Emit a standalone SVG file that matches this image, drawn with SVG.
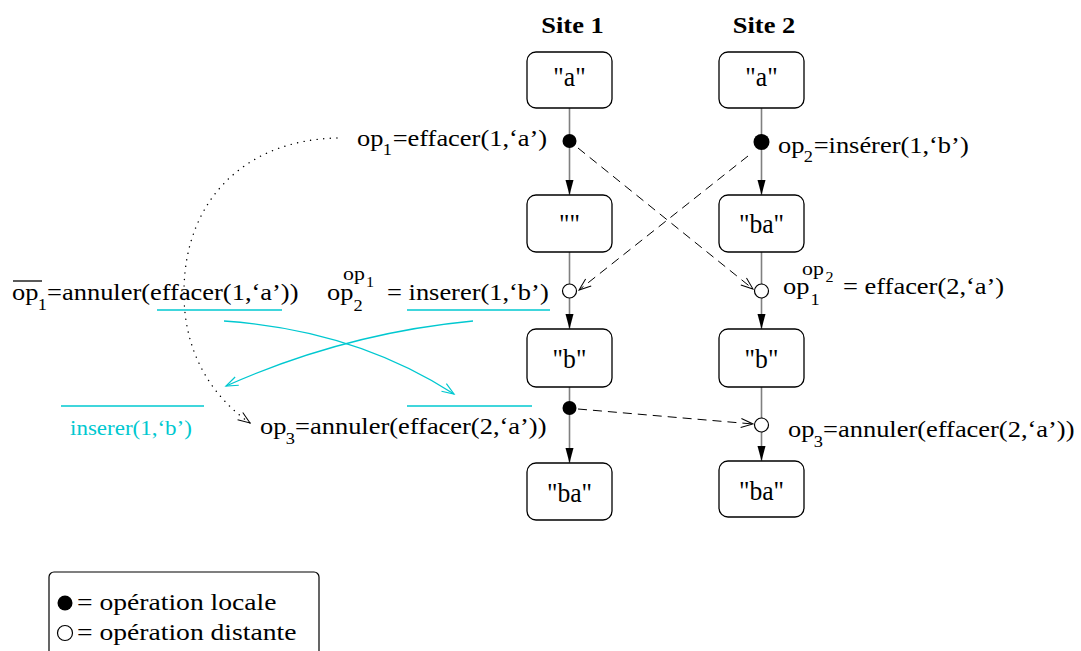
<svg xmlns="http://www.w3.org/2000/svg" width="1081" height="651" viewBox="0 0 1081 651">
<style>
text{font-family:"Liberation Serif","Times New Roman",serif;fill:#000}
.lb{font-size:23px}
.sb{font-size:16px}
.sp{font-size:19px}
.ss{font-size:14px}
.bx{font-size:27px;text-anchor:middle}
.title{font-size:23px;font-weight:bold;text-anchor:middle}
.lg{font-size:24px}
.box{fill:#fff;stroke:#000;stroke-width:1.3}
.flow{fill:none;stroke:#808080;stroke-width:1.6;marker-end:url(#fa)}
.msg{fill:none;stroke:#000;stroke-width:1;stroke-dasharray:9 6;marker-end:url(#oa)}
.dot{fill:none;stroke:#000;stroke-width:1.4;stroke-dasharray:0.1 6.5;stroke-linecap:round;marker-end:url(#oa)}
.cy{fill:none;stroke:#00c8d0;stroke-width:1.3}
.cya{fill:none;stroke:#00c8d0;stroke-width:1.3;marker-end:url(#oc)}
.loc{fill:#000}
.rem{fill:#fff;stroke:#000;stroke-width:1.2}
.ctext{fill:#00c8d0;font-size:20px}
</style>
<defs>
<marker id="fa" markerWidth="16" markerHeight="10" refX="15" refY="4" orient="auto" markerUnits="userSpaceOnUse" overflow="visible"><path d="M0,0 L15,4 L0,8 z" fill="#000"/></marker>
<marker id="oa" markerWidth="14" markerHeight="10" refX="12" refY="4.5" orient="auto" markerUnits="userSpaceOnUse" overflow="visible"><path d="M0,0 L12,4.5 L0,9" fill="none" stroke="#000" stroke-width="1"/></marker>
<marker id="oc" markerWidth="14" markerHeight="10" refX="12" refY="4.5" orient="auto" markerUnits="userSpaceOnUse" overflow="visible"><path d="M0,0 L12,4.5 L0,9" fill="none" stroke="#00c8d0" stroke-width="1.2"/></marker>
</defs>
<rect width="1081" height="651" fill="#fff"/>

<g id="titles">
<g transform="translate(572.5,33) scale(1.15,1)"><text class="title">Site 1</text></g>
<g transform="translate(764,33) scale(1.15,1)"><text class="title">Site 2</text></g>
</g>

<g id="connectors">
<path class="flow" d="M569.5,108 V195"/>
<path class="flow" d="M569.5,252 V329"/>
<path class="flow" d="M569.5,387 V463"/>
<path class="flow" d="M761.5,108 V195"/>
<path class="flow" d="M761.5,252 V329"/>
<path class="flow" d="M761.5,387 V461"/>
<path class="msg" d="M578,148 L753,289"/>
<path class="msg" d="M748,156 L579,290"/>
<path class="msg" d="M578,409 L753,424"/>
<path class="dot" d="M337,138 C245,140 185,200 184,290 C183,350 210,395 250,423"/>
<path class="cya" d="M224,321 Q355,330 454,394"/>
<path class="cya" d="M473,321 Q345,333 226,386"/>
<line class="cy" x1="157" y1="310" x2="282" y2="310"/>
<line class="cy" x1="407" y1="310" x2="550" y2="310"/>
<line class="cy" x1="61" y1="406" x2="204" y2="406"/>
<line class="cy" x1="407" y1="406" x2="532" y2="406"/>
</g>

<g id="s1-a"><rect class="box" x="527" y="52" width="85" height="56" rx="9"/><g transform="translate(569.5,86) scale(0.95,1)"><text class="bx">"a"</text></g></g>
<g id="s1-empty"><rect class="box" x="527" y="195" width="85" height="57" rx="9"/><g transform="translate(569.5,233) scale(0.95,1)"><text class="bx">""</text></g></g>
<g id="s1-b"><rect class="box" x="527" y="329" width="85" height="58" rx="9"/><g transform="translate(569.5,368) scale(0.95,1)"><text class="bx">"b"</text></g></g>
<g id="s1-ba"><rect class="box" x="527" y="463" width="85" height="57" rx="9"/><g transform="translate(569.5,502) scale(0.95,1)"><text class="bx">"ba"</text></g></g>
<g id="s2-a"><rect class="box" x="719" y="52" width="85" height="56" rx="9"/><g transform="translate(761.5,86) scale(0.95,1)"><text class="bx">"a"</text></g></g>
<g id="s2-ba1"><rect class="box" x="719" y="195" width="85" height="57" rx="9"/><g transform="translate(761.5,233) scale(0.95,1)"><text class="bx">"ba"</text></g></g>
<g id="s2-b"><rect class="box" x="719" y="329" width="85" height="58" rx="9"/><g transform="translate(761.5,368) scale(0.95,1)"><text class="bx">"b"</text></g></g>
<g id="s2-ba2"><rect class="box" x="719" y="461" width="85" height="56" rx="9"/><g transform="translate(761.5,500) scale(0.95,1)"><text class="bx">"ba"</text></g></g>

<g id="ev-op1"><circle class="loc" cx="569.5" cy="141" r="7"/>
<g transform="translate(357,146) scale(1.15,1)"><text class="lb">op</text><text class="sb" x="22.5" y="9">1</text><text class="lb" x="31">=effacer(1,‘a’)</text></g></g>
<g id="ev-op2"><circle class="loc" cx="761.5" cy="142" r="8"/>
<g transform="translate(778,153) scale(1.15,1)"><text class="lb">op</text><text class="sb" x="22.5" y="9">2</text><text class="lb" x="31">=insérer(1,‘b’)</text></g></g>
<g id="ev-op2t"><circle class="rem" cx="569.5" cy="291" r="7"/>
<g transform="translate(327,300) scale(1.15,1)"><text class="lb">op</text><text class="sb" x="23" y="11">2</text><text class="sp" x="13.9" y="-20">op</text><text class="ss" x="33.9" y="-13">1</text><text class="lb" x="52.2">= inserer(1,‘b’)</text></g></g>
<g id="ev-op1t"><circle class="rem" cx="761.5" cy="291" r="7"/>
<g transform="translate(783,294) scale(1.15,1)"><text class="lb">op</text><text class="sb" x="24" y="11">1</text><text class="sp" x="16.5" y="-19">op</text><text class="ss" x="37" y="-12">2</text><text class="lb" x="52.2">= effacer(2,‘a’)</text></g></g>
<g id="ev-op3"><circle class="loc" cx="569.5" cy="408" r="7"/>
<g transform="translate(260,434) scale(1.15,1)"><text class="lb">op</text><text class="sb" x="22.5" y="10">3</text><text class="lb" x="30.5">=annuler(effacer(2,‘a’))</text></g></g>
<g id="ev-op3r"><circle class="rem" cx="761.5" cy="425" r="7"/>
<g transform="translate(788,437) scale(1.15,1)"><text class="lb">op</text><text class="sb" x="22.5" y="10">3</text><text class="lb" x="30.5">=annuler(effacer(2,‘a’))</text></g></g>

<g id="undo-label">
<line x1="13" y1="281" x2="42" y2="281" stroke="#000" stroke-width="1.3"/>
<g transform="translate(12,300) scale(1.15,1)"><text class="lb">op</text><text class="sb" x="22.5" y="10">1</text><text class="lb" x="30.5">=annuler(effacer(1,‘a’))</text></g>
</g>
<g id="cyan-label"><g transform="translate(70,435) scale(1.15,1)"><text class="ctext">inserer(1,‘b’)</text></g></g>

<g id="legend">
<rect x="49" y="572" width="270" height="90" rx="5" fill="#fff" stroke="#000" stroke-width="1.2"/>
<circle class="loc" cx="65" cy="603" r="7.5"/>
<circle class="rem" cx="65" cy="633" r="7.5"/>
<g transform="translate(77,610) scale(1.15,1)"><text class="lg">= opération locale</text></g>
<g transform="translate(77,640) scale(1.15,1)"><text class="lg">= opération distante</text></g>
</g>
</svg>
